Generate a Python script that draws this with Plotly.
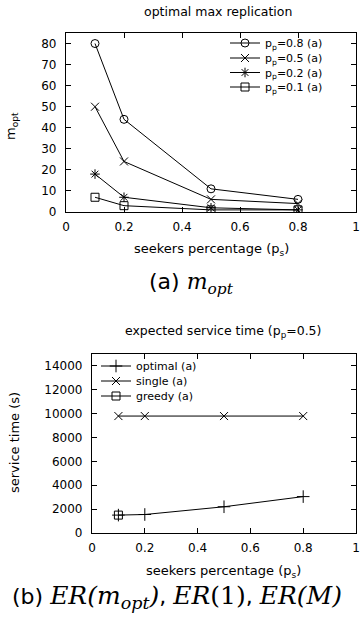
import plotly.graph_objects as go

# ---------------- data ----------------
ps = [0.1, 0.2, 0.5, 0.8]
m_pp08 = [80, 44, 11, 6]
m_pp05 = [50, 24, 6, 4]
m_pp02 = [18, 7, 2, 1]
m_pp01 = [7, 3, 1, 1]

st_optimal = [1500, 1550, 2200, 3050]
st_single = [9800, 9800, 9800, 9800]
greedy_ps = [0.1]
st_greedy = [1500]

top_names = ["p<sub>p</sub>=0.8 (a)", "p<sub>p</sub>=0.5 (a)",
             "p<sub>p</sub>=0.2 (a)", "p<sub>p</sub>=0.1 (a)"]
bot_names = ["optimal (a)", "single (a)", "greedy (a)"]

FONT = "DejaVu Sans"
BLACK = "black"
W, H = 361, 624

fig = go.Figure()

top_series = [m_pp08, m_pp05, m_pp02, m_pp01]
top_symbols = ["circle-open", "x-thin-open", "asterisk-open", "square-open"]
legend_ids = []
for i, (name, ys, sym) in enumerate(zip(top_names, top_series, top_symbols)):
    lid = "legend" if i == 0 else f"legend{i + 1}"
    legend_ids.append(lid)
    fig.add_trace(go.Scatter(
        x=ps, y=ys, name=name, mode="lines+markers",
        line=dict(color=BLACK, width=1),
        marker=dict(symbol=sym, size=8, color=BLACK, line=dict(color=BLACK, width=1)),
        xaxis="x", yaxis="y", legend=lid))

bot_x = [ps, ps, greedy_ps]
bot_y = [st_optimal, st_single, st_greedy]
bot_symbols = ["cross-thin-open", "x-thin-open", "square-open"]
for j, (name, xs, ys, sym) in enumerate(zip(bot_names, bot_x, bot_y, bot_symbols)):
    lid = f"legend{j + 5}"
    legend_ids.append(lid)
    fig.add_trace(go.Scatter(
        x=xs, y=ys, name=name, mode="lines+markers",
        line=dict(color=BLACK, width=1),
        marker=dict(symbol=sym, size=9 if j == 0 else 8, color=BLACK,
                    line=dict(color=BLACK, width=1)),
        xaxis="x2", yaxis="y2", legend=lid))

axis_common = dict(
    showgrid=False, zeroline=False, showline=True, linecolor=BLACK, linewidth=1.2,
    mirror="ticks", ticks="inside", ticklen=5, tickcolor=BLACK, tickwidth=1,
    tickfont=dict(family=FONT, size=12, color=BLACK), automargin=False,
)

layout = dict(
    template="none",
    width=W, height=H,
    margin=dict(l=0, r=0, t=0, b=0, pad=0),
    paper_bgcolor="white", plot_bgcolor="white",
    font=dict(family=FONT, color=BLACK),
    showlegend=True,
    xaxis=dict(domain=[66 / W, 356 / W], range=[0, 1], dtick=0.2, anchor="y",
               ticklabelstandoff=3, **axis_common),
    yaxis=dict(domain=[(H - 212) / H, (H - 33) / H], range=[0, 85], dtick=10, anchor="x",
               ticklabelstandoff=6, **axis_common),
    xaxis2=dict(domain=[92 / W, 356 / W], range=[0, 1], dtick=0.2, anchor="y2",
                ticklabelstandoff=3, **axis_common),
    yaxis2=dict(domain=[(H - 533) / H, (H - 354) / H], range=[0, 15000], dtick=2000,
                tickformat="d", anchor="x2", ticklabelstandoff=6, **axis_common),
)

# legend rows (one legend per entry so row spacing can match the reference)
top_rows = [43, 58, 72.5, 87]
bot_rows = [366, 381, 396]
rows = [(225, y) for y in top_rows] + [(96, y) for y in bot_rows]
for lid, (lx, ly) in zip(legend_ids, rows):
    layout[lid] = dict(x=lx / W, y=(H - ly) / H, xanchor="left", yanchor="middle",
                       bgcolor="rgba(0,0,0,0)", borderwidth=0,
                       font=dict(family=FONT, size=11, color=BLACK))
fig.update_layout(**layout)


def ann(text, x, y, size, angle=0, xanchor="center"):
    fig.add_annotation(text=text, x=x / W, y=(H - y) / H, xref="paper", yref="paper",
                       showarrow=False, textangle=angle, xanchor=xanchor, yanchor="middle",
                       font=dict(family=FONT, size=size, color=BLACK))


SER = 'font-family:DejaVu Serif;font-style:italic'
ann("optimal max replication", 218, 11, 12.5)
ann("m<sub>opt</sub>", 12, 126, 13, -90)
ann("seekers percentage (p<sub>s</sub>)", 211, 249, 13)
ann(f'(a) <span style="{SER}">m<sub>opt</sub></span>', 191, 283, 22)

ann("expected service time (p<sub>p</sub>=0.5)", 223, 331, 12.5)
ann("service time (s)", 15, 443, 13, -90)
ann("seekers percentage (p<sub>s</sub>)", 224, 571, 13)
ann(f'(b) <span style="{SER};font-size:25px">ER(m<sub>opt</sub>)</span>, '
    f'<span style="{SER};font-size:25px">ER</span>'
    f'<span style="font-family:DejaVu Serif;font-size:25px">(1)</span>, '
    f'<span style="{SER};font-size:25px">ER(M)</span>',
    10, 597, 22, xanchor="left")

fig.write_html("out.html", config={"displayModeBar": False},
               post_script="document.body.style.margin='0';")
